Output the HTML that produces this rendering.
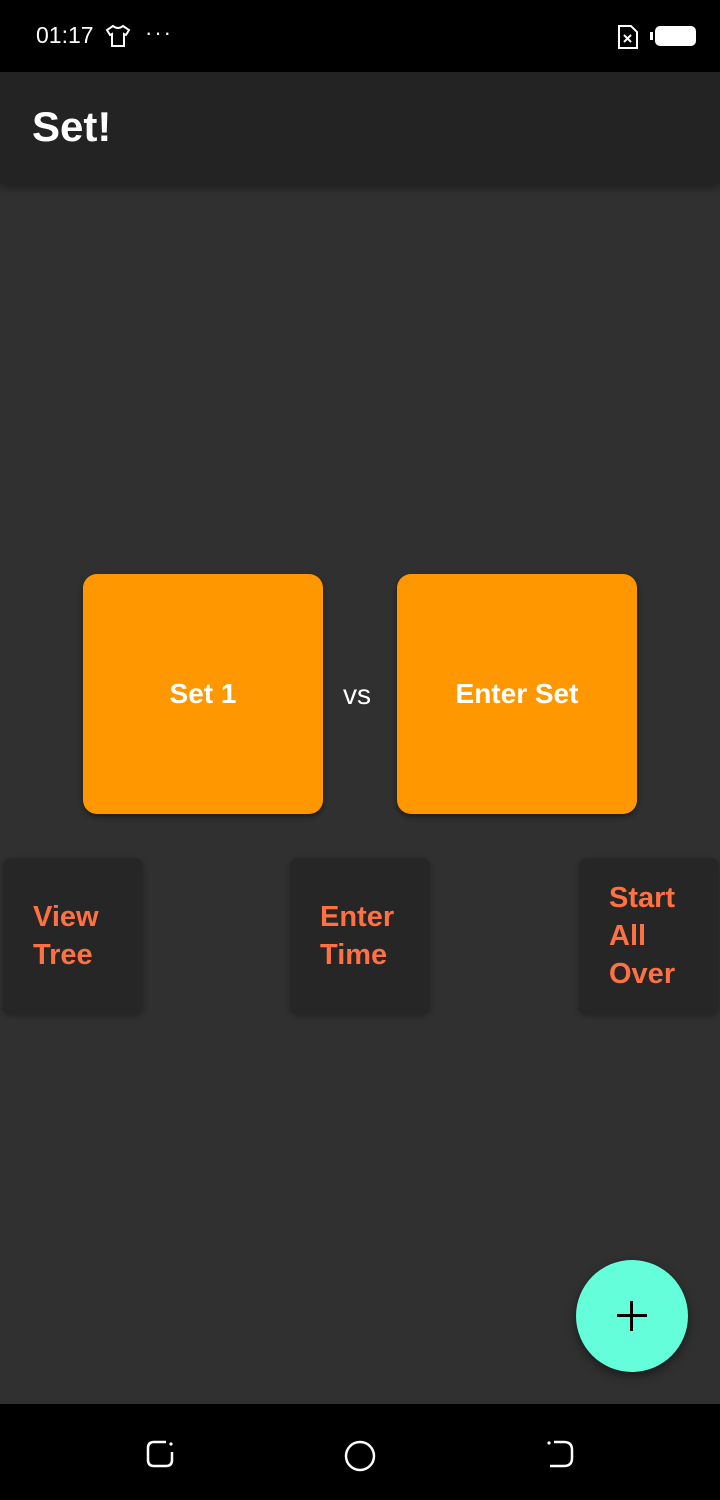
<!DOCTYPE html>
<html><head><meta charset="utf-8">
<style>
*{margin:0;padding:0;box-sizing:border-box}
body{width:720px;height:1500px;background:#303030;font-family:"Liberation Sans",sans-serif;position:relative;overflow:hidden}
.abs{position:absolute}
.status{left:0;top:0;width:720px;height:72px;background:#000}
.appbar{left:0;top:72px;width:720px;height:112px;background:#232323;box-shadow:0 4px 8px rgba(0,0,0,.35)}
.box{width:240px;height:240px;background:#FF9800;border-radius:14px;color:#fff;font-weight:bold;font-size:28px;display:flex;align-items:center;justify-content:center;box-shadow:0 3px 6px rgba(0,0,0,.4)}
.card{width:140px;height:156px;background:#262626;border-radius:8px;color:#FF7043;font-size:29px;font-weight:bold;padding-left:30px;display:flex;flex-direction:column;justify-content:center;line-height:38px;box-shadow:0 2px 6px rgba(0,0,0,.3)}
.nav{left:0;top:1404px;width:720px;height:96px;background:#000}
</style></head><body>
<div class="abs status">
  <div class="abs" style="left:36px;top:22px;color:#fff;font-size:23px">01:17</div>
  <svg class="abs" style="left:105px;top:24px" width="26" height="24"><path d="M8 2 L2 6 L5 11 L7 10 L7 22 L19 22 L19 10 L21 11 L24 6 L18 2 Q13 6 8 2Z" fill="none" stroke="#fff" stroke-width="2"/></svg>
  <div class="abs" style="left:145px;top:20px;color:#fff;font-size:22px;letter-spacing:2px">···</div>
  <svg class="abs" style="left:617px;top:24px" width="22" height="26"><path d="M2 2 H14 L20 8 V24 H2Z" fill="none" stroke="#fff" stroke-width="2"/><path d="M7 11 L14 18 M14 11 L7 18" stroke="#fff" stroke-width="2"/></svg>
  <svg class="abs" style="left:650px;top:25px" width="48" height="22"><rect x="0" y="7" width="3" height="8" fill="#fff"/><rect x="5" y="1" width="41" height="20" rx="5" fill="#fff"/></svg>
</div>
<div class="abs appbar">
  <div class="abs" style="left:32px;top:31px;color:#fff;font-size:42px;font-weight:bold">Set!</div>
</div>
<div class="abs box" style="left:83px;top:574px">Set 1</div>
<div class="abs" style="left:343px;top:679px;color:#fff;font-size:28px">vs</div>
<div class="abs box" style="left:397px;top:574px">Enter Set</div>
<div class="abs card" style="left:3px;top:858px"><span>View</span><span>Tree</span></div>
<div class="abs card" style="left:290px;top:858px"><span>Enter</span><span>Time</span></div>
<div class="abs card" style="left:579px;top:858px"><span>Start</span><span>All</span><span>Over</span></div>
<div class="abs" style="left:576px;top:1260px;width:112px;height:112px;border-radius:56px;background:#64FFDA;box-shadow:0 4px 10px rgba(0,0,0,.45)">
  <div class="abs" style="left:41px;top:54px;width:30px;height:3px;background:#000"></div>
  <div class="abs" style="left:54px;top:41px;width:3px;height:30px;background:#000"></div>
</div>
<div class="abs nav">
  <svg class="abs" style="left:144px;top:34px" width="32" height="32"><path d="M22 4 H10 Q4 4 4 10 V22 Q4 28 10 28 H22 Q28 28 28 22 V14" fill="none" stroke="#fff" stroke-width="2.5"/><circle cx="27" cy="6" r="1.6" fill="#fff"/></svg>
  <svg class="abs" style="left:343px;top:35px" width="34" height="34"><circle cx="17" cy="17" r="14" fill="none" stroke="#fff" stroke-width="2.5"/></svg>
  <svg class="abs" style="left:544px;top:34px" width="32" height="32"><path d="M10 4 H20 Q28 4 28 12 V20 Q28 28 20 28 H6" fill="none" stroke="#fff" stroke-width="2.5"/><circle cx="5" cy="5" r="1.6" fill="#fff"/></svg>
</div>
</body></html>
